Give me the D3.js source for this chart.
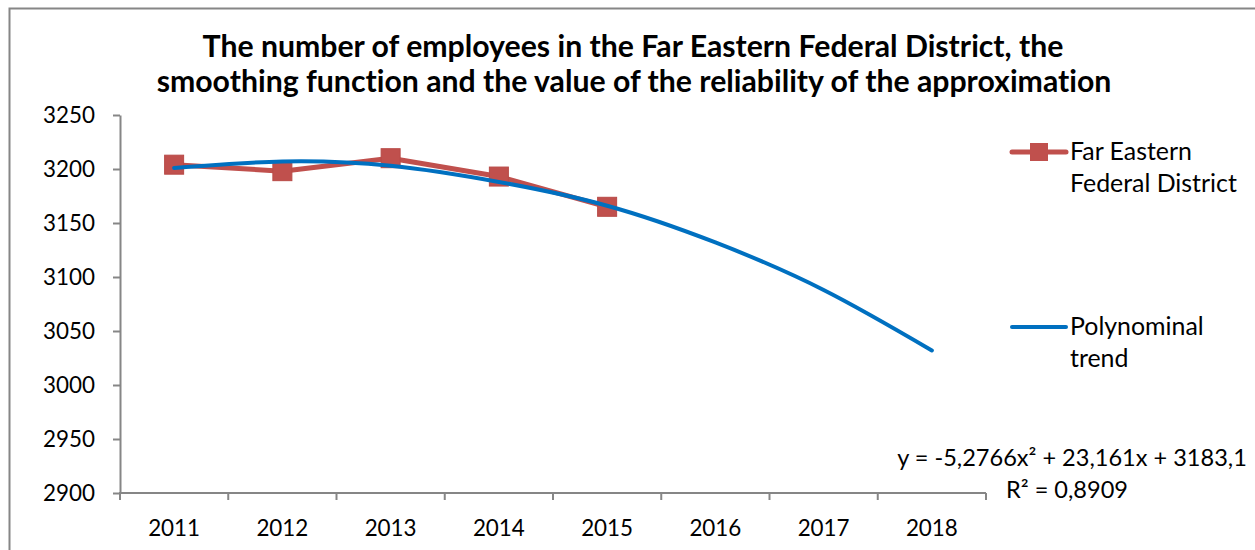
<!DOCTYPE html>
<html>
<head>
<meta charset="utf-8">
<script src="https://cdn.jsdelivr.net/npm/d3@7/dist/d3.min.js"></script>
<style>
  html, body { margin: 0; padding: 0; background: #fff; }
  svg { display: block; }
  text { font-family: Lato, "Open Sans", sans-serif; fill: #000; font-variant-ligatures: none; font-feature-settings: "liga" 0; }
</style>
</head>
<body>
<svg id="chart" width="1255" height="550"></svg>
<script>
// ---- data ----
const years = ["2011", "2012", "2013", "2014", "2015", "2016", "2017", "2018"];
const employeeYears = ["2011", "2012", "2013", "2014", "2015"];
const employees = [3204, 3198, 3210, 3193, 3165];
const trendValues = [3201, 3207, 3203, 3188, 3166, 3132, 3088, 3032];
const yTicks = [2900, 2950, 3000, 3050, 3100, 3150, 3200, 3250];
const titleLines = [
  "The number of employees in the Far Eastern Federal District, the",
  "smoothing function and the value of the reliability of the approximation"
];
const seriesNames = [["Far Eastern", "Federal District"], ["Polynominal", "trend"]];
const equationLines = ["y = -5,2766x\u00B2 + 23,161x + 3183,1", "R\u00B2 = 0,8909"];

// ---- setup ----
const svg = d3.select("#chart");
const axisColor = "#868686";
const red = "#C0504D";
const blue = "#0070C0";

function fit(sel, target) {
  const w = sel.node().getComputedTextLength();
  const fs = parseFloat(sel.attr("font-size"));
  return fs * target / w;
}

// outer border (extends beyond right / bottom edge)
svg.append("rect").attr("x", 9.5).attr("y", 8.5).attr("width", 1300).attr("height", 600)
  .attr("fill", "none").attr("stroke", axisColor).attr("stroke-width", 2);

const x = d3.scaleBand().domain(years).range([120, 986]).padding(0);
const y = d3.scaleLinear().domain([2900, 3250]).range([493, 115]);
const cx = d => x(d) + x.bandwidth() / 2;

// ---- title ----
const t2 = svg.append("text").attr("font-size", 26).attr("font-weight", "bold")
  .attr("text-anchor", "middle").attr("x", 634).attr("y", 92).text(titleLines[1]);
const titleSize = fit(t2, 955);
t2.attr("font-size", titleSize);
svg.append("text").attr("font-size", titleSize).attr("font-weight", "bold")
  .attr("text-anchor", "middle").attr("x", 633).attr("y", 57).text(titleLines[0]);

// ---- y axis ----
const yAxis = svg.append("g").attr("transform", "translate(120,0)")
  .call(d3.axisLeft(y).tickValues(yTicks).tickSize(7).tickSizeOuter(0).tickPadding(18).tickFormat(d3.format("d")));
yAxis.select(".domain").attr("stroke", axisColor).attr("stroke-width", 2);
yAxis.selectAll(".tick line").attr("stroke", axisColor).attr("stroke-width", 2);
yAxis.selectAll(".tick text").attr("font-family", "Lato, sans-serif").attr("fill", "#000");
const yt = yAxis.select(".tick text").attr("font-size", 20);
const tickSize = fit(yt, 52);
yAxis.selectAll(".tick text").attr("font-size", tickSize);

// ---- x axis (ticks between categories) ----
const xAxis = svg.append("g");
xAxis.append("line").attr("x1", 119).attr("x2", x(years[years.length - 1]) + x.bandwidth())
  .attr("y1", y(2900)).attr("y2", y(2900)).attr("stroke", axisColor).attr("stroke-width", 2);
const boundaries = years.map(d => x(d)).concat([x(years[years.length - 1]) + x.bandwidth()]);
xAxis.selectAll("line.tk").data(boundaries).join("line").attr("class", "tk")
  .attr("x1", d => d).attr("x2", d => d).attr("y1", y(2900)).attr("y2", y(2900) + 7)
  .attr("stroke", axisColor).attr("stroke-width", 2);
xAxis.selectAll("text").data(years).join("text")
  .attr("x", d => cx(d)).attr("y", 536).attr("text-anchor", "middle")
  .attr("font-size", tickSize).text(d => d);

// ---- series ----
svg.append("path").datum(employees)
  .attr("fill", "none").attr("stroke", red).attr("stroke-width", 5).attr("stroke-linejoin", "round")
  .attr("d", d3.line().x((d, i) => cx(employeeYears[i])).y(d => y(d)));
svg.selectAll("rect.mk").data(employees).join("rect").attr("class", "mk")
  .attr("x", (d, i) => cx(employeeYears[i]) - 9.5).attr("y", d => y(d) - 9.5)
  .attr("width", 19).attr("height", 19).attr("fill", red).attr("stroke", "#B84A47").attr("stroke-width", 1);

svg.append("path").datum(trendValues)
  .attr("fill", "none").attr("stroke", blue).attr("stroke-width", 4).attr("stroke-linecap", "round")
  .attr("d", d3.line().curve(d3.curveNatural).x((d, i) => cx(years[i])).y(d => y(d)));

// ---- legend ----
const lg = svg.append("g");
lg.append("line").attr("x1", 1012).attr("x2", 1066).attr("y1", 152).attr("y2", 152)
  .attr("stroke", red).attr("stroke-width", 5).attr("stroke-linecap", "round");
lg.append("rect").attr("x", 1030).attr("y", 143).attr("width", 18).attr("height", 18).attr("fill", red);
lg.append("line").attr("x1", 1012).attr("x2", 1066).attr("y1", 327).attr("y2", 327)
  .attr("stroke", blue).attr("stroke-width", 4).attr("stroke-linecap", "round");
const l1 = lg.append("text").attr("x", 1070).attr("y", 160).attr("font-size", 20).text(seriesNames[0][0]);
const legendSize = fit(l1, 122);
l1.attr("font-size", legendSize);
lg.append("text").attr("x", 1070).attr("y", 192).attr("font-size", legendSize).text(seriesNames[0][1]);
lg.append("text").attr("x", 1070).attr("y", 335).attr("font-size", legendSize).text(seriesNames[1][0]);
lg.append("text").attr("x", 1070).attr("y", 367).attr("font-size", legendSize).text(seriesNames[1][1]);

// ---- equation ----
const e1 = svg.append("text").attr("x", 1072).attr("y", 466).attr("text-anchor", "middle")
  .attr("font-size", 20).text(equationLines[0]);
const eqSize = fit(e1, 350);
e1.attr("font-size", eqSize);
svg.append("text").attr("x", 1067).attr("y", 498).attr("text-anchor", "middle")
  .attr("font-size", eqSize).text(equationLines[1]);
</script>
</body>
</html>
